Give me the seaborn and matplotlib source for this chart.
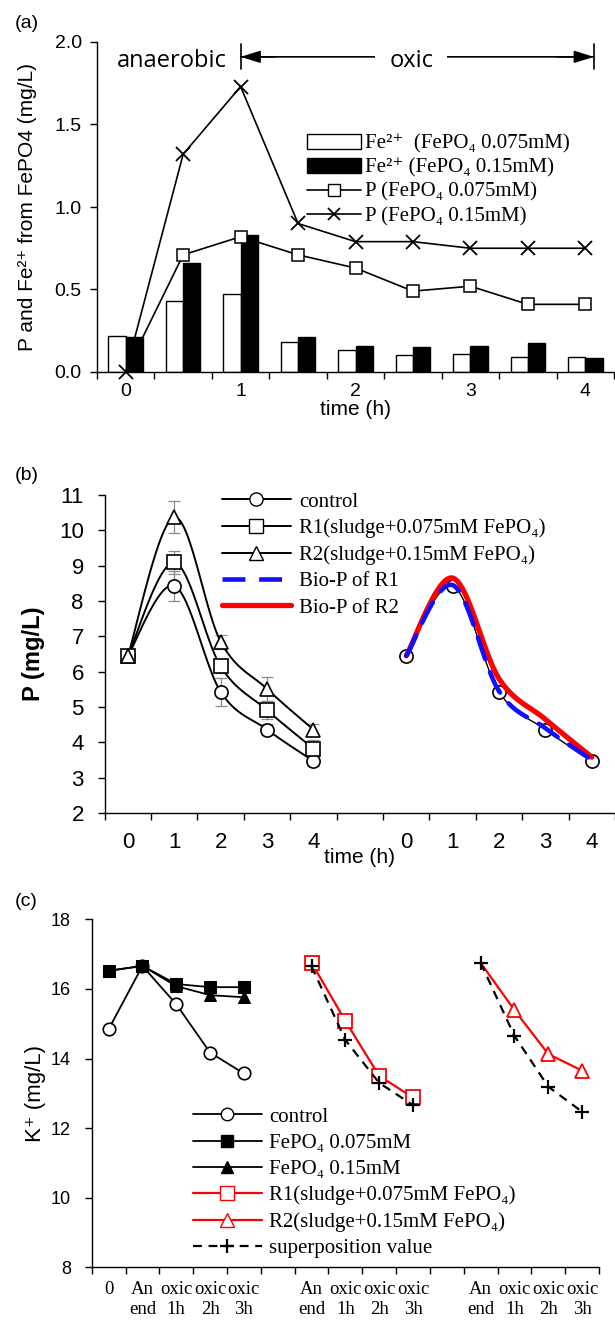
import numpy as np
import pandas as pd
import matplotlib
matplotlib.use('Agg')
import matplotlib.pyplot as plt
import seaborn as sns
from matplotlib.lines import Line2D
from matplotlib.patches import Patch

# ---------------- data ----------------
# (a) Fe2+ release and P (mg/L) vs time, half-hour steps
a_time = ['0', '0.5', '1', '1.5', '2', '2.5', '3', '3.5', '4']
fe_075 = [0.22, 0.43, 0.47, 0.18, 0.135, 0.105, 0.11, 0.09, 0.09]
fe_15 = [0.21, 0.66, 0.83, 0.21, 0.16, 0.15, 0.155, 0.175, 0.085]
p_075 = [0.0, 0.71, 0.82, 0.71, 0.63, 0.49, 0.52, 0.41, 0.41]
p_15 = [0.0, 1.32, 1.73, 0.90, 0.79, 0.79, 0.75, 0.75, 0.75]

# (b) P (mg/L), hourly
b_time = ['0', '1', '2', '3', '4']
ctrl_b = [6.45, 8.43, 5.43, 4.36, 3.47]
ctrl_b_err = [0.0, 0.42, 0.40, 0.15, 0.13]
r1_b = [6.45, 9.09, 6.15, 4.91, 3.82]
r1_b_err = [0.0, 0.32, 0.20, 0.25, 0.25]
r2_b = [6.45, 10.37, 6.85, 5.51, 4.36]
r2_b_err = [0.0, 0.45, 0.20, 0.33, 0.15]
biop_r1 = [6.45, 8.45, 5.45, 4.40, 3.50]
biop_r2 = [6.45, 8.65, 5.80, 4.65, 3.58]

# (c) K+ (mg/L)
c_labels = ['0', 'An\nend', 'oxic\n1h', 'oxic\n2h', 'oxic\n3h', '',
            'An\nend', 'oxic\n1h', 'oxic\n2h', 'oxic\n3h', '',
            'An\nend', 'oxic\n1h', 'oxic\n2h', 'oxic\n3h']
ctrl_c = [14.84, 16.66, 15.56, 14.17, 13.57]
fe075_c = [16.52, 16.66, 16.14, 16.05, 16.05]
fe15_c = [16.52, 16.66, 16.08, 15.82, 15.76]
r1_c = [16.75, 15.08, 13.50, 12.88]
sup1_c = [16.65, 14.53, 13.30, 12.66]
r2_c = [16.75, 15.39, 14.13, 13.65]
sup2_c = [16.75, 14.65, 13.19, 12.47]

# ---------------- style ----------------
sns.set_style('ticks', {'axes.edgecolor': 'black', 'xtick.color': 'black',
                        'ytick.color': 'black', 'text.color': 'black',
                        'axes.labelcolor': 'black'})
plt.rcParams['font.family'] = ['Liberation Sans', 'DejaVu Sans']
plt.rcParams['axes.linewidth'] = 1.0
SERIF = ['Liberation Serif', 'DejaVu Serif']

W, H = 615, 1320


def box(l, t, r, b):
    # pixel box -> figure fraction
    return [l / W, 1 - b / H, (r - l) / W, (b - t) / H]


def smooth(xs, ys, n=30):
    # catmull-rom curve through the points (like Excel smoothed lines)
    px = np.r_[xs[0], xs, xs[-1]].astype(float)
    py = np.r_[ys[0], ys, ys[-1]].astype(float)
    t = np.linspace(0, 1, n)
    sx, sy = [], []
    for i in range(1, len(px) - 2):
        for p, out in ((px, sx), (py, sy)):
            p0, p1, p2, p3 = p[i - 1], p[i], p[i + 1], p[i + 2]
            out.append(0.5 * (2 * p1 + (p2 - p0) * t + (2 * p0 - 5 * p1 + 4 * p2 - p3) * t ** 2
                              + (3 * p1 - p0 - 3 * p2 + p3) * t ** 3))
    return np.concatenate(sx), np.concatenate(sy)


def cat_ticks(ax, n, centers, labels, size, pad, family=None, linespacing=1.2):
    ax.set_xticks(np.arange(-0.5, n, 1))
    ax.set_xticklabels([])
    ax.set_xticks(centers, minor=True)
    kw = dict(fontsize=size, linespacing=linespacing)
    if family:
        kw['family'] = family
    ax.set_xticklabels(labels, minor=True, **kw)
    ax.tick_params(axis='x', which='minor', length=0, pad=pad)
    ax.tick_params(axis='both', which='major', length=5, width=1, direction='out')
    ax.set_xlim(-0.5, n - 0.5)


fig = plt.figure(figsize=(W / 100, H / 100), dpi=100)

# ================= (a) =================
axA = fig.add_axes(box(97, 42, 614, 372))
df_a = pd.DataFrame({'time': a_time * 2, 'Fe': fe_075 + fe_15,
                     'dose': ['0.075'] * len(a_time) + ['0.15'] * len(a_time)})
sns.barplot(data=df_a, x='time', y='Fe', hue='dose', order=a_time,
            hue_order=['0.075', '0.15'], palette=['white', 'black'], saturation=1,
            edgecolor='black', linewidth=1, width=0.6, errorbar=None,
            legend=False, ax=axA, zorder=2)
xa = np.arange(len(a_time))
axA.plot(xa, p_075, color='black', lw=1.2, marker='s', ms=9, mfc='white',
         mec='black', mew=1.1, zorder=3, markevery=list(range(1, len(a_time))))
axA.plot(xa, p_15, color='black', lw=1.2, marker='x', ms=10, mew=1.3,
         zorder=3, clip_on=False)
cat_ticks(axA, len(a_time), [0, 2, 4, 6, 8], ['0', '1', '2', '3', '4'], 14, 8)
axA.set_ylim(0, 2)
axA.set_yticks([0, 0.5, 1.0, 1.5, 2.0])
axA.set_yticklabels(['0.0', '0.5', '1.0', '1.5', '2.0'], fontsize=14)
axA.tick_params(axis='y', pad=6)
axA.set_xlabel('time (h)', fontsize=15)
axA.xaxis.set_label_coords(0.5, -0.085)
axA.set_ylabel('P and Fe²⁺ from FePO4 (mg/L)', fontsize=15, va='center')
axA.yaxis.set_label_coords(-0.135, 0.5)
sns.despine(ax=axA)

ya = 1.91
axA.text(0.8, 1.885, 'anaerobic', ha='center', va='center', fontsize=17,
         family='Open Sans')
axA.annotate('', xy=(2.0, ya), xytext=(8.15, ya),
             arrowprops=dict(arrowstyle='|-|,widthA=0.45,widthB=0.45', lw=1.2,
                             color='black', shrinkA=0, shrinkB=0, mutation_scale=20))
axA.annotate('', xy=(2.0, ya), xytext=(2.6, ya),
             arrowprops=dict(arrowstyle='-|>,head_length=0.8,head_width=0.25', lw=1.2,
                             color='black', shrinkA=0, shrinkB=0, mutation_scale=15))
axA.annotate('', xy=(8.15, ya), xytext=(7.5, ya),
             arrowprops=dict(arrowstyle='-|>,head_length=0.8,head_width=0.25', lw=1.2,
                             color='black', shrinkA=0, shrinkB=0, mutation_scale=15))
axA.text(4.97, 1.885, 'oxic', ha='center', va='center', fontsize=17,
         family='Open Sans', zorder=5,
         bbox=dict(facecolor='white', edgecolor='none', pad=10))

hA = [Patch(facecolor='white', edgecolor='black', lw=1),
      Patch(facecolor='black', edgecolor='black', lw=1),
      Line2D([], [], color='black', lw=1.2, marker='s', ms=9, mfc='white', mec='black'),
      Line2D([], [], color='black', lw=1.2, marker='x', ms=9, mew=1.3)]
lA = ['Fe²⁺  (FePO₄ 0.075mM)', 'Fe²⁺ (FePO₄ 0.15mM)',
      'P (FePO₄ 0.075mM)', 'P (FePO₄ 0.15mM)']
axA.legend(hA, lA, loc='upper left', bbox_to_anchor=(307 / W, 1 - 134 / H),
           bbox_transform=fig.transFigure, frameon=False,
           prop={'family': SERIF, 'size': 15}, handlelength=2.6,
           handletextpad=0.2, labelspacing=0.22, borderpad=0, borderaxespad=0)

# ================= (b) =================
axB = fig.add_axes(box(104.7, 495, 615, 813))
xl = np.arange(len(b_time))
xr = xl + len(b_time) + 1
for vals, err, mk in ((ctrl_b, ctrl_b_err, 'o'), (r1_b, r1_b_err, 's'), (r2_b, r2_b_err, '^')):
    axB.errorbar(xl, vals, yerr=err, fmt='none', ecolor='#8a8a8a', elinewidth=0.9,
                 capsize=4, capthick=0.9, zorder=1)
    axB.plot(*smooth(xl, vals), color='black', lw=1.4, zorder=2)
    axB.plot(xl, vals, ls='none', marker=mk, ms=9.5, mfc='white', mec='black',
             mew=1.2, zorder=3)
axB.plot(*smooth(xr, ctrl_b), color='black', lw=1.0, zorder=2)
axB.plot(xr, ctrl_b, ls='none', marker='o', ms=9.5, mfc='white', mec='black',
         mew=1.2, zorder=2)
axB.plot(*smooth(xr, biop_r2), color='#ff0000', lw=3.8, zorder=3,
         solid_capstyle='round')
axB.plot(*smooth(xr, biop_r1), color='#1010ff', lw=3.3, zorder=4,
         dashes=(5, 3), dash_capstyle='round')
cat_ticks(axB, 11, list(xl) + list(xr), b_time + b_time, 16, 14)
axB.set_ylim(2, 11)
axB.set_yticks(range(2, 12))
axB.tick_params(axis='y', labelsize=16, pad=10)
axB.set_xlabel('time (h)', fontsize=15)
axB.xaxis.set_label_coords(0.5, -0.11)
axB.set_ylabel('P (mg/L)', fontsize=17, fontweight='bold', va='center')
axB.yaxis.set_label_coords(-0.139, 0.5)
sns.despine(ax=axB)

hB = [Line2D([], [], color='black', lw=1.4, marker='o', ms=9.5, mfc='white', mec='black'),
      Line2D([], [], color='black', lw=1.4, marker='s', ms=9.5, mfc='white', mec='black'),
      Line2D([], [], color='black', lw=1.4, marker='^', ms=9.5, mfc='white', mec='black'),
      Line2D([], [], color='#1010ff', lw=3.3, dashes=(5, 3)),
      Line2D([], [], color='#ff0000', lw=3.8)]
lB = ['control', 'R1(sludge+0.075mM FePO₄)', 'R2(sludge+0.15mM FePO₄)',
      'Bio-P of R1', 'Bio-P of R2']
axB.legend(hB, lB, loc='upper left', bbox_to_anchor=(222 / W, 1 - 492 / H),
           bbox_transform=fig.transFigure, frameon=False,
           prop={'family': SERIF, 'size': 15}, handlelength=3.3,
           handletextpad=0.4, labelspacing=0.33, borderpad=0, borderaxespad=0)

# ================= (c) =================
axC = fig.add_axes(box(91.7, 919.3, 599, 1267.3))
x0 = np.arange(5)
x1 = np.arange(6, 10)
x2 = np.arange(11, 15)
sns.lineplot(x=x0, y=ctrl_c, color='black', lw=1.3, marker='o', markersize=9,
             markerfacecolor='white', markeredgecolor='black', markeredgewidth=1.2, ax=axC)
sns.lineplot(x=x0, y=fe15_c, color='black', lw=1.3, marker='^', markersize=9,
             markerfacecolor='black', markeredgecolor='black', ax=axC)
sns.lineplot(x=x0, y=fe075_c, color='black', lw=1.3, marker='s', markersize=9,
             markerfacecolor='black', markeredgecolor='black', ax=axC)
sns.lineplot(x=x1, y=r1_c, color='#ff0000', lw=1.6, marker='s', markersize=9.5,
             markerfacecolor='white', markeredgecolor='#ff0000', markeredgewidth=1.3, ax=axC)
sns.lineplot(x=x2, y=r2_c, color='#ff0000', lw=1.6, marker='^', markersize=9.5,
             markerfacecolor='white', markeredgecolor='#ff0000', markeredgewidth=1.3,
             markevery=[1, 2, 3], ax=axC)
for xs, ys in ((x1, sup1_c), (x2, sup2_c)):
    sns.lineplot(x=xs, y=ys, color='black', lw=1.6, linestyle=(0, (4, 3)), marker='+',
                 markersize=10, markeredgecolor='black', markeredgewidth=1.6, ax=axC)
cat_ticks(axC, 15, list(range(15)), c_labels, 13.5, 10, family=SERIF, linespacing=1.25)
axC.set_ylim(8, 18)
axC.set_yticks(range(8, 19, 2))
axC.tick_params(axis='y', labelsize=13, pad=10)
axC.set_xlabel('')
axC.set_ylabel('K⁺ (mg/L)', fontsize=16, va='center')
axC.yaxis.set_label_coords(-0.11, 0.5)
sns.despine(ax=axC)

hC = [Line2D([], [], color='black', lw=1.3, marker='o', ms=9, mfc='white', mec='black'),
      Line2D([], [], color='black', lw=1.3, marker='s', ms=9, mfc='black', mec='black'),
      Line2D([], [], color='black', lw=1.3, marker='^', ms=9, mfc='black', mec='black'),
      Line2D([], [], color='#ff0000', lw=1.6, marker='s', ms=9.5, mfc='white', mec='#ff0000'),
      Line2D([], [], color='#ff0000', lw=1.6, marker='^', ms=9.5, mfc='white', mec='#ff0000'),
      Line2D([], [], color='black', lw=1.6, ls=(0, (4, 3)), marker='+', ms=10, mew=1.6)]
lC = ['control', 'FePO₄ 0.075mM', 'FePO₄ 0.15mM', 'R1(sludge+0.075mM FePO₄)',
      'R2(sludge+0.15mM FePO₄)', 'superposition value']
axC.legend(hC, lC, loc='upper left', bbox_to_anchor=(193 / W, 1 - 1107 / H),
           bbox_transform=fig.transFigure, frameon=False,
           prop={'family': SERIF, 'size': 15}, handlelength=3.3,
           handletextpad=0.35, labelspacing=0.32, borderpad=0, borderaxespad=0)

# panel letters
fig.text(15 / W, 1 - 23 / H, '(a)', fontsize=14, va='center')
fig.text(15 / W, 1 - 476 / H, '(b)', fontsize=14, va='center')
fig.text(15 / W, 1 - 901 / H, '(c)', fontsize=14, va='center')

fig.savefig('out.png', dpi=100)
